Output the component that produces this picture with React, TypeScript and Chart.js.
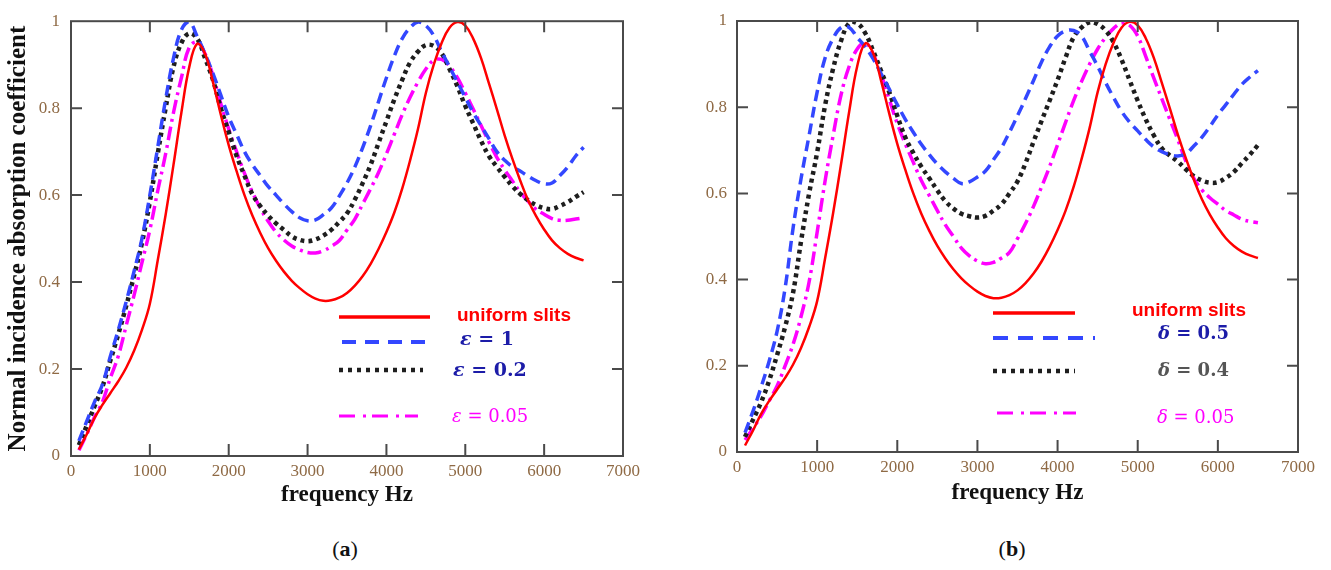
import React, { useEffect, useRef } from 'react';
import { Chart, registerables } from 'chart.js';

Chart.register(...registerables);

// ---------- data ----------
const freqHz = [
  100, 200, 300, 400, 500, 600, 700, 800, 900, 1000,
  1100, 1200, 1300, 1400, 1500, 1600, 1700, 1800, 1900, 2000,
  2100, 2200, 2300, 2400, 2500, 2600, 2700, 2800, 2900, 3000,
  3100, 3200, 3300, 3400, 3500, 3600, 3700, 3800, 3900, 4000,
  4100, 4200, 4300, 4400, 4500, 4600, 4700, 4800, 4900, 5000,
  5100, 5200, 5300, 5400, 5500, 5600, 5700, 5800, 5900, 6000,
  6100, 6200, 6300, 6400, 6500,
];

const uniformSlits = [
  0.015, 0.05, 0.088, 0.118, 0.145, 0.172, 0.203, 0.242, 0.29, 0.35,
  0.45, 0.555, 0.67, 0.79, 0.895, 0.948, 0.925, 0.86, 0.785, 0.715,
  0.655, 0.6, 0.553, 0.513, 0.478, 0.449, 0.424, 0.403, 0.386, 0.372,
  0.362, 0.357, 0.358, 0.364, 0.375, 0.392, 0.414, 0.442, 0.476, 0.515,
  0.56, 0.615, 0.68, 0.752, 0.835, 0.9, 0.95, 0.985, 0.998, 0.99,
  0.96, 0.915, 0.857, 0.798, 0.737, 0.682, 0.632, 0.587, 0.551, 0.521,
  0.496, 0.478, 0.465, 0.456, 0.45,
];

// panel (a)
const epsilon1 = [
  0.035, 0.08, 0.125, 0.165, 0.23, 0.29, 0.355, 0.425, 0.5, 0.6,
  0.71, 0.82, 0.915, 0.98, 0.998, 0.965, 0.925, 0.88, 0.83, 0.78,
  0.74, 0.7, 0.67, 0.645, 0.62, 0.6, 0.58, 0.562, 0.548, 0.541,
  0.543, 0.555, 0.57, 0.597, 0.628, 0.665, 0.71, 0.76, 0.815, 0.87,
  0.92, 0.96, 0.985, 0.998, 0.99, 0.967, 0.93, 0.895, 0.86, 0.825,
  0.79, 0.76, 0.73, 0.7, 0.68, 0.665, 0.655, 0.643, 0.633, 0.626,
  0.628, 0.645, 0.665, 0.69, 0.71,
];
const epsilon02 = [
  0.025, 0.07, 0.115, 0.16, 0.22, 0.28, 0.345, 0.415, 0.49, 0.585,
  0.695, 0.8, 0.895, 0.95, 0.972, 0.96, 0.915, 0.865, 0.8, 0.745,
  0.69, 0.645, 0.602, 0.575, 0.553, 0.535, 0.52, 0.505, 0.497, 0.494,
  0.498, 0.507, 0.52, 0.538, 0.558, 0.59, 0.628, 0.67, 0.72, 0.77,
  0.82, 0.865, 0.905, 0.93, 0.945, 0.943, 0.926, 0.89, 0.85, 0.805,
  0.765, 0.725, 0.69, 0.665, 0.642, 0.62, 0.602, 0.588, 0.577, 0.57,
  0.568, 0.575, 0.584, 0.596, 0.607,
];
const epsilon005 = [
  0.013, 0.05, 0.09, 0.125, 0.18, 0.23, 0.3, 0.37, 0.445, 0.52,
  0.61, 0.695, 0.79, 0.87, 0.94, 0.952, 0.925, 0.875, 0.81, 0.752,
  0.7, 0.65, 0.607, 0.57, 0.54, 0.515, 0.497, 0.483, 0.474, 0.468,
  0.467, 0.472, 0.482, 0.495, 0.52, 0.545, 0.58, 0.615, 0.652, 0.695,
  0.74, 0.785, 0.825, 0.86, 0.89, 0.91, 0.912, 0.897, 0.87, 0.835,
  0.798, 0.76, 0.722, 0.687, 0.658, 0.632, 0.606, 0.585, 0.567, 0.556,
  0.546, 0.542, 0.542, 0.545, 0.548,
];

// panel (b)
const delta05 = [
  0.045, 0.095, 0.15, 0.21, 0.28, 0.38, 0.52, 0.635, 0.735, 0.835,
  0.915, 0.96, 0.985, 0.985, 0.962, 0.94, 0.912, 0.877, 0.842, 0.806,
  0.772, 0.742, 0.714, 0.69, 0.668, 0.65, 0.635, 0.623, 0.627, 0.638,
  0.652, 0.678, 0.706, 0.742, 0.78, 0.82, 0.862, 0.905, 0.94, 0.965,
  0.977, 0.978, 0.965, 0.93, 0.895, 0.857, 0.822, 0.79, 0.765, 0.745,
  0.725, 0.708, 0.697, 0.69, 0.687, 0.692, 0.71, 0.73, 0.755, 0.782,
  0.806, 0.83, 0.853, 0.87, 0.885,
];
const delta04 = [
  0.035, 0.075, 0.115, 0.165, 0.225, 0.29, 0.37, 0.49, 0.6, 0.695,
  0.805, 0.89, 0.955, 0.995, 0.995, 0.972, 0.93, 0.883, 0.835, 0.78,
  0.73, 0.694, 0.662, 0.635, 0.607, 0.582, 0.565, 0.553, 0.547, 0.544,
  0.548, 0.56, 0.575, 0.6, 0.628, 0.67, 0.72, 0.768, 0.815, 0.863,
  0.915, 0.962, 0.985, 0.997, 0.993, 0.978, 0.95, 0.91, 0.862, 0.815,
  0.772, 0.735, 0.705, 0.688, 0.674, 0.656, 0.64, 0.63, 0.625, 0.626,
  0.636, 0.65, 0.67, 0.69, 0.712,
];
const delta005 = [
  0.028, 0.055, 0.083, 0.118, 0.153, 0.2, 0.25, 0.315, 0.395, 0.51,
  0.63, 0.735, 0.83, 0.895, 0.935, 0.95, 0.922, 0.875, 0.818, 0.762,
  0.715, 0.672, 0.63, 0.595, 0.56, 0.527, 0.5, 0.473, 0.455, 0.443,
  0.437, 0.44, 0.45, 0.463, 0.495, 0.53, 0.57, 0.615, 0.662, 0.713,
  0.765, 0.815, 0.86, 0.9, 0.935, 0.962, 0.983, 0.995, 0.99, 0.965,
  0.918, 0.868, 0.82, 0.772, 0.725, 0.675, 0.635, 0.608, 0.59, 0.575,
  0.56, 0.55, 0.54, 0.535, 0.532,
];

const xTicks = [0, 1000, 2000, 3000, 4000, 5000, 6000, 7000];
const yTicks = [0, 0.2, 0.4, 0.6, 0.8, 1];

// ---------- styles ----------
const SERIF = '"Liberation Serif", "Times New Roman", serif';
const MATH = '"DejaVu Serif", serif';
const SANS = '"Liberation Sans", Arial, sans-serif';
const TICK_COLOR = '#8f6a45';
const NAVY = '#1c1ca8';

type LineStyle = { color: string; width: number; dash: number[] };

const STYLE: Record<string, LineStyle> = {
  red: { color: '#ff0000', width: 2.5, dash: [] },
  blue: { color: '#3347ff', width: 3.5, dash: [11, 6] },
  black: { color: '#1e1e1e', width: 4.5, dash: [4, 4] },
  magenta: { color: '#ff00ff', width: 3.5, dash: [14, 5, 3, 5] },
};

type Part = { t: string; font: string };
type LegendRow = {
  style: LineStyle;
  lineDash: number[];
  lineWidth: number;
  x1: number; x2: number; y: number;
  tx: number; ty: number;
  color: string;
  parts: Part[];
};

const framePlugin = {
  id: 'frameTicks',
  afterDraw(chart: any) {
    const { ctx, chartArea: a, scales } = chart;
    const xs = scales.x, ys = scales.y;
    ctx.save();
    ctx.strokeStyle = '#4a4a4a';
    ctx.lineWidth = 2;
    ctx.setLineDash([]);
    ctx.beginPath();
    for (const v of xTicks) {
      const px = xs.getPixelForValue(v);
      if (px <= a.left + 1 || px >= a.right - 1) continue;
      ctx.moveTo(px, a.bottom); ctx.lineTo(px, a.bottom - 12);
      ctx.moveTo(px, a.top); ctx.lineTo(px, a.top + 11);
    }
    for (const v of yTicks) {
      const py = ys.getPixelForValue(v);
      if (py <= a.top + 1 || py >= a.bottom - 1) continue;
      ctx.moveTo(a.left, py); ctx.lineTo(a.left + 11, py);
      ctx.moveTo(a.right, py); ctx.lineTo(a.right - 11, py);
    }
    ctx.stroke();
    ctx.strokeRect(a.left, a.top, a.right - a.left, a.bottom - a.top);
    ctx.restore();
  },
};

function makeLegendPlugin(rows: LegendRow[]) {
  return {
    id: 'customLegend',
    afterDraw(chart: any) {
      const ctx = chart.ctx;
      ctx.save();
      for (const r of rows) {
        ctx.strokeStyle = r.style.color;
        ctx.lineWidth = r.lineWidth;
        ctx.setLineDash(r.lineDash);
        ctx.lineCap = 'butt';
        ctx.beginPath();
        ctx.moveTo(r.x1, r.y);
        ctx.lineTo(r.x2, r.y);
        ctx.stroke();
        ctx.setLineDash([]);
        ctx.fillStyle = r.color;
        ctx.textBaseline = 'middle';
        ctx.textAlign = 'left';
        let x = r.tx;
        for (const p of r.parts) {
          ctx.font = p.font;
          ctx.fillText(p.t, x, r.ty);
          x += ctx.measureText(p.t).width;
        }
      }
      ctx.restore();
    },
  };
}

type Series = { label: string; values: number[]; style: LineStyle };

function buildConfig(p: {
  series: Series[];
  padding: { top: number; right: number; left: number; bottom: number };
  xAxisHeight: number;
  xTitlePad: number;
  yAxisWidth: number;
  yTickPad: number;
  yTitle: string | null;
  legend: LegendRow[];
}): any {
  return {
    type: 'line',
    data: {
      datasets: p.series.map((s) => ({
        label: s.label,
        data: freqHz.map((f, i) => ({ x: f, y: s.values[i] })),
        borderColor: s.style.color,
        borderWidth: s.style.width,
        borderDash: s.style.dash,
        borderCapStyle: 'butt',
        pointRadius: 0,
        tension: 0.4,
        fill: false,
      })),
    },
    options: {
      responsive: false,
      animation: false,
      devicePixelRatio: 1,
      layout: { padding: p.padding },
      plugins: { legend: { display: false }, tooltip: { enabled: false } },
      scales: {
        x: {
          type: 'linear',
          min: 0,
          max: 7000,
          grid: { display: false, drawTicks: false },
          border: { display: false },
          afterBuildTicks: (s: any) => { s.ticks = xTicks.map((v) => ({ value: v })); },
          ticks: {
            padding: 5,
            color: TICK_COLOR,
            font: { family: SERIF, size: 17 },
            maxRotation: 0,
            autoSkip: false,
            callback: (v: any) => String(v),
          },
          title: {
            display: true,
            text: 'frequency Hz',
            color: '#111',
            font: { family: SERIF, size: 23, weight: 'bold' },
            padding: { top: 0, bottom: p.xTitlePad },
          },
          afterFit: (s: any) => { s.height = p.xAxisHeight; },
        },
        y: {
          type: 'linear',
          min: 0,
          max: 1,
          grid: { display: false, drawTicks: false },
          border: { display: false },
          afterBuildTicks: (s: any) => { s.ticks = yTicks.map((v) => ({ value: v })); },
          ticks: {
            padding: p.yTickPad,
            color: TICK_COLOR,
            font: { family: SERIF, size: 17 },
            callback: (v: any) => String(Number(Number(v).toFixed(1))),
          },
          title: p.yTitle
            ? {
                display: true,
                text: p.yTitle,
                color: '#111',
                font: { family: SERIF, size: 25, weight: 'bold' },
                padding: { top: 4, bottom: 0 },
              }
            : { display: false },
          afterFit: (s: any) => { s.width = p.yAxisWidth; },
        },
      },
    },
    plugins: [framePlugin, makeLegendPlugin(p.legend)],
  };
}

const legendA: LegendRow[] = [
  { style: STYLE.red, lineDash: [], lineWidth: 3.5, x1: 339, x2: 430, y: 317, tx: 457, ty: 316, color: '#ff0000',
    parts: [{ t: 'uniform slits', font: `bold 19px ${SANS}` }] },
  { style: STYLE.blue, lineDash: [14, 9], lineWidth: 4, x1: 342, x2: 426, y: 342, tx: 460, ty: 340, color: NAVY,
    parts: [{ t: 'ε', font: `italic bold 19px ${MATH}` }, { t: ' = 1', font: `bold 19px ${MATH}` }] },
  { style: STYLE.black, lineDash: [4, 5], lineWidth: 4.5, x1: 339, x2: 423, y: 370, tx: 453, ty: 371, color: NAVY,
    parts: [{ t: 'ε', font: `italic bold 19px ${MATH}` }, { t: ' = 0.2', font: `bold 19px ${MATH}` }] },
  { style: STYLE.magenta, lineDash: [16, 8, 3, 6], lineWidth: 3, x1: 339, x2: 418, y: 416, tx: 452, ty: 417, color: '#ff00ff',
    parts: [{ t: 'ε', font: `italic 18px ${MATH}` }, { t: ' = 0.05', font: `18px ${MATH}` }] },
];

const legendB: LegendRow[] = [
  { style: STYLE.red, lineDash: [], lineWidth: 3.5, x1: 328, x2: 410, y: 313, tx: 467, ty: 311, color: '#ff0000',
    parts: [{ t: 'uniform slits', font: `bold 19px ${SANS}` }] },
  { style: STYLE.blue, lineDash: [15, 10], lineWidth: 4, x1: 328, x2: 430, y: 338, tx: 493, ty: 334, color: NAVY,
    parts: [{ t: 'δ', font: `italic bold 18px ${MATH}` }, { t: ' = 0.5', font: `bold 18px ${MATH}` }] },
  { style: STYLE.black, lineDash: [4, 5], lineWidth: 4.5, x1: 328, x2: 410, y: 371, tx: 493, ty: 371, color: '#555555',
    parts: [{ t: 'δ', font: `italic bold 18px ${MATH}` }, { t: ' = 0.4', font: `bold 18px ${MATH}` }] },
  { style: STYLE.magenta, lineDash: [16, 8, 3, 6], lineWidth: 3, x1: 332, x2: 411, y: 413, tx: 492, ty: 418, color: '#ff00ff',
    parts: [{ t: 'δ', font: `italic 18px ${MATH}` }, { t: ' = 0.05', font: `18px ${MATH}` }] },
];

export default function App() {
  const refA = useRef<HTMLCanvasElement>(null);
  const refB = useRef<HTMLCanvasElement>(null);

  useEffect(() => {
    const chartA = new Chart(refA.current as HTMLCanvasElement, buildConfig({
      series: [
        { label: 'uniform slits', values: uniformSlits, style: STYLE.red },
        { label: 'ε = 1', values: epsilon1, style: STYLE.blue },
        { label: 'ε = 0.2', values: epsilon02, style: STYLE.black },
        { label: 'ε = 0.05', values: epsilon005, style: STYLE.magenta },
      ],
      padding: { top: 14, right: 42, left: 0, bottom: 0 },
      xAxisHeight: 54,
      xTitlePad: 1,
      yAxisWidth: 71,
      yTickPad: 11,
      yTitle: 'Normal incidence absorption coefficient',
      legend: legendA,
    }));
    const chartB = new Chart(refB.current as HTMLCanvasElement, buildConfig({
      series: [
        { label: 'uniform slits', values: uniformSlits, style: STYLE.red },
        { label: 'δ = 0.5', values: delta05, style: STYLE.blue },
        { label: 'δ = 0.4', values: delta04, style: STYLE.black },
        { label: 'δ = 0.05', values: delta005, style: STYLE.magenta },
      ],
      padding: { top: 21, right: 33, left: 0, bottom: 0 },
      xAxisHeight: 58,
      xTitlePad: 3,
      yAxisWidth: 72,
      yTickPad: 10,
      yTitle: null,
      legend: legendB,
    }));
    return () => {
      chartA.destroy();
      chartB.destroy();
    };
  }, []);

  const caption: React.CSSProperties = {
    position: 'absolute',
    top: 536,
    width: 100,
    textAlign: 'center',
    fontFamily: SERIF,
    fontSize: 22,
    lineHeight: '26px',
    color: '#111',
  };

  return (
    <div style={{ position: 'absolute', left: 0, top: 0, width: 1331, height: 570, background: '#fff', overflow: 'hidden' }}>
      <canvas ref={refA} width={665} height={510} style={{ position: 'absolute', left: 0, top: 0 }} />
      <canvas ref={refB} width={666} height={510} style={{ position: 'absolute', left: 665, top: 0 }} />
      <div style={{ ...caption, left: 295 }}>(<b>a</b>)</div>
      <div style={{ ...caption, left: 962 }}>(<b>b</b>)</div>
    </div>
  );
}
